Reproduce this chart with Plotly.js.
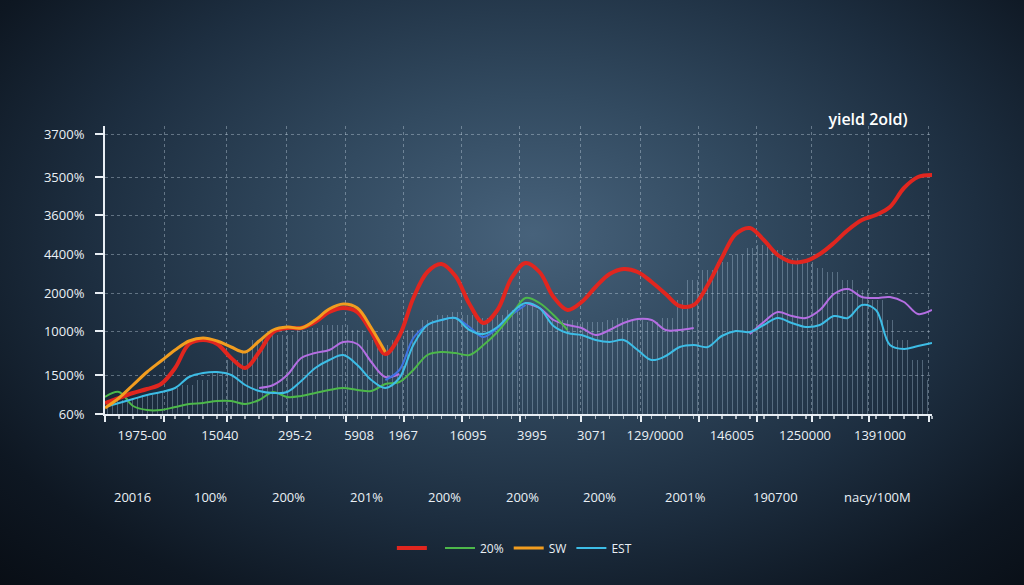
<!DOCTYPE html>
<html>
<head>
<meta charset="utf-8">
<script src="https://cdn.plot.ly/plotly-3.0.1.min.js"></script>
<style>
  html, body { margin: 0; padding: 0; width: 1024px; height: 585px; overflow: hidden; }
  body { background: radial-gradient(ellipse 75% 85% at 52% 40%, #47627b 0%, #324a60 28%, #1d2e40 58%, #0e1722 82%, #080d14 100%); }
  #chart { width: 1024px; height: 585px; }
</style>
</head>
<body>
<div id="chart"></div>
<script>
// ---- data ----
const xIdx = [0,1,2,3,4,5,6,7,8,9,10,11,12,13,14,15,16,17,18,19,20,21,22,23,24,25,26,27,28,29,
              30,31,32,33,34,35,36,37,38,39,40,41,42,43,44,45,46,47,48,49,50,51,52,53,54,55,56,57,58,59];

const redSeries = [11,16,21,25,30,46,70,74,70,56,46,62,82,86,86,92,102,106,102,82,60,78,116,142,150,138,110,91,104,136,
                   151,142,117,104,112,127,140,145,142,132,120,108,109,129,156,180,186,174,159,152,153,160,171,184,194,199,207,226,237,239];

const orangeSeries = [6,16,29,42,53,64,73,76,73,67,62,73,84,87,86,94,105,110,106,86,62,null,null,null,null,null,null,null,null,null,
                      null,null,null,null,null,null,null,null,null,null,null,null,null,null,null,null,null,null,null,null,null,null,null,null,null,null,null,null,null,null];

const greenSeries = [17,22,8,4,4,7,10,11,13,13,10,14,22,17,18,21,24,26,24,23,30,32,44,59,62,61,59,69,82,99,
                     116,111,99,84,null,null,null,null,null,null,null,null,null,null,null,null,null,null,null,null,null,null,null,null,null,null,null,null,null,null];

const estSeries = [7,11,15,19,22,26,37,41,42,39,29,23,21,22,33,46,54,59,49,34,26,36,69,89,94,96,84,80,87,101,
                   111,106,88,81,79,74,72,74,64,54,58,67,69,67,78,83,82,89,96,91,87,89,98,96,109,104,69,65,68,71];

const purpleSeries = [null,null,null,null,null,null,null,null,null,null,null,26,29,39,56,61,64,72,70,52,37,40,null,null,null,null,null,null,null,null,
                      111,106,94,89,86,79,84,91,95,94,84,84,86,null,null,null,80,92,102,98,96,104,120,125,117,116,117,112,100,104];

const blueSeries = [null,null,null,null,null,null,null,null,null,null,null,null,null,null,null,null,null,null,null,null,34,44,76,89,94,96,87,77,86,99,
                    109,null,null,null,null,null,null,null,null,null,null,null,null,null,null,null,null,null,null,null,null,null,null,null,null,null,null,null,null,null];

const hatchSeries = [14,14,16,19,22,26,29,34,42,54,64,74,79,79,84,86,89,89,84,74,69,74,84,94,99,102,99,96,99,104,
                     109,104,96,94,92,92,94,96,94,92,96,114,134,144,152,159,166,169,164,156,152,146,142,134,124,114,94,74,54,34];

const yTickLabels = ['60%','1500%','1000%','2000%','4400%','3600%','3500%','3700%'];
const xTickLabels = ['1975-00','15040','295-2','5908','1967','16095','3995','3071','129/0000','146005','1250000','1391000'];
const xSubLabels = ['20016','100%','200%','201%','200%','200%','200%','2001%','190700','nacy/100M'];
const legendNames = {red: ' ', green: '20%', orange: 'SW', est: 'EST'};
const chartTitle = 'yield 2old)';

// ---- layout positions ----
const yTickPos = [0,39,83,121,160,199,237,280];
const xGridPos = [0,4.21,8.70,12.98,17.19,21.33,25.46,29.6,33.95,38.23,42.37,46.50,50.43,54.49,58.78];
const xLabelPos = [2.64,8.20,13.55,18.12,21.26,25.90,30.46,34.74,39.24,44.73,49.94,55.29];
const xSubPos = [1.93,7.56,13.06,18.69,24.19,29.75,35.31,41.38,47.87,55.08];

const FONT = '"Open Sans", "Noto Sans", sans-serif';
const TXT = '#eaf0f5';

const traces = [
  { type: 'bar', x: xIdx, y: hatchSeries, showlegend: false, hoverinfo: 'skip', width: 1,
    marker: { color: 'rgba(0,0,0,0)', line: { width: 0 },
              pattern: { shape: '|', size: 5, solidity: 0.2, fgcolor: 'rgba(190,215,236,0.32)' } } },
  { type: 'scatter', mode: 'lines', x: xIdx, y: purpleSeries, showlegend: false,
    line: { color: '#b46ee2', width: 2, shape: 'spline', smoothing: 1 } },
  { type: 'scatter', mode: 'lines', x: xIdx, y: blueSeries, showlegend: false,
    line: { color: '#3f73e0', width: 2, shape: 'spline', smoothing: 1 } },
  { type: 'scatter', mode: 'lines', x: xIdx, y: greenSeries, name: legendNames.green, legendrank: 2,
    line: { color: '#4db84a', width: 2, shape: 'spline', smoothing: 1 } },
  { type: 'scatter', mode: 'lines', x: xIdx, y: estSeries, name: legendNames.est, legendrank: 4,
    line: { color: '#3dbde6', width: 2, shape: 'spline', smoothing: 1 } },
  { type: 'scatter', mode: 'lines', x: xIdx, y: redSeries, name: legendNames.red, legendrank: 1,
    line: { color: '#e1261f', width: 4, shape: 'spline', smoothing: 1 } },
  { type: 'scatter', mode: 'lines', x: xIdx, y: orangeSeries, name: legendNames.orange, legendrank: 3,
    line: { color: '#f29d1f', width: 3, shape: 'spline', smoothing: 1 } }
];

const annotations = xSubLabels.map((t, i) => ({
  text: t, x: xSubPos[i], xref: 'x', y: -0.288, yref: 'paper', yanchor: 'middle', xanchor: 'center',
  showarrow: false, font: { family: FONT, size: 13, color: TXT }
}));

const layout = {
  width: 1024, height: 585,
  paper_bgcolor: 'rgba(0,0,0,0)', plot_bgcolor: 'rgba(0,0,0,0)',
  margin: { l: 105, r: 92, t: 126, b: 171, pad: 0 },
  bargap: 0,
  title: { text: chartTitle, x: 868 / 1024, xanchor: 'center', y: 1 - 119 / 585, yanchor: 'middle',
           font: { family: FONT, size: 16, color: '#ffffff', weight: 600 } },
  xaxis: {
    range: [0, 59], tickmode: 'array', tickvals: xGridPos, showticklabels: false,
    ticks: 'outside', ticklen: 6, tickwidth: 1.5, tickcolor: '#e8eef4',
    showgrid: true, gridcolor: 'rgba(205,220,235,0.38)', griddash: 'dot', gridwidth: 1,
    showline: true, linecolor: '#e8eef4', linewidth: 2, zeroline: false,
    minor: { tickmode: 'linear', tick0: 0, dtick: 1, ticks: 'outside', ticklen: 3, tickcolor: 'rgba(232,238,244,0.7)', showgrid: false }
  },
  xaxis2: {
    range: [0, 59], overlaying: 'x', anchor: 'y', side: 'bottom',
    tickmode: 'array', tickvals: xLabelPos, ticktext: xTickLabels, ticks: '',
    showgrid: false, showline: false, zeroline: false, ticklabelstandoff: 12,
    tickfont: { family: FONT, size: 13, color: TXT }
  },
  yaxis: {
    range: [0, 288], tickmode: 'array', tickvals: yTickPos, ticktext: yTickLabels,
    ticks: 'outside', ticklen: 8, tickwidth: 1.5, tickcolor: '#e8eef4', ticklabelstandoff: 8,
    showgrid: true, gridcolor: 'rgba(205,220,235,0.38)', griddash: 'dot', gridwidth: 1,
    showline: true, linecolor: '#e8eef4', linewidth: 2, zeroline: false,
    tickfont: { family: FONT, size: 13, color: TXT }
  },
  legend: {
    orientation: 'h', x: 0.495, xanchor: 'center', y: -0.465, yanchor: 'middle',
    bgcolor: 'rgba(0,0,0,0)', font: { family: FONT, size: 12, color: TXT }, traceorder: 'normal'
  },
  annotations: annotations,
  showlegend: true
};

// empty helper trace so the tick-label axis is drawn
traces.push({ type: 'scatter', mode: 'markers', x: [0], y: [null], xaxis: 'x2', yaxis: 'y', showlegend: false, hoverinfo: 'skip' });

Plotly.newPlot('chart', traces, layout, { displayModeBar: false, staticPlot: true });
</script>
</body>
</html>
